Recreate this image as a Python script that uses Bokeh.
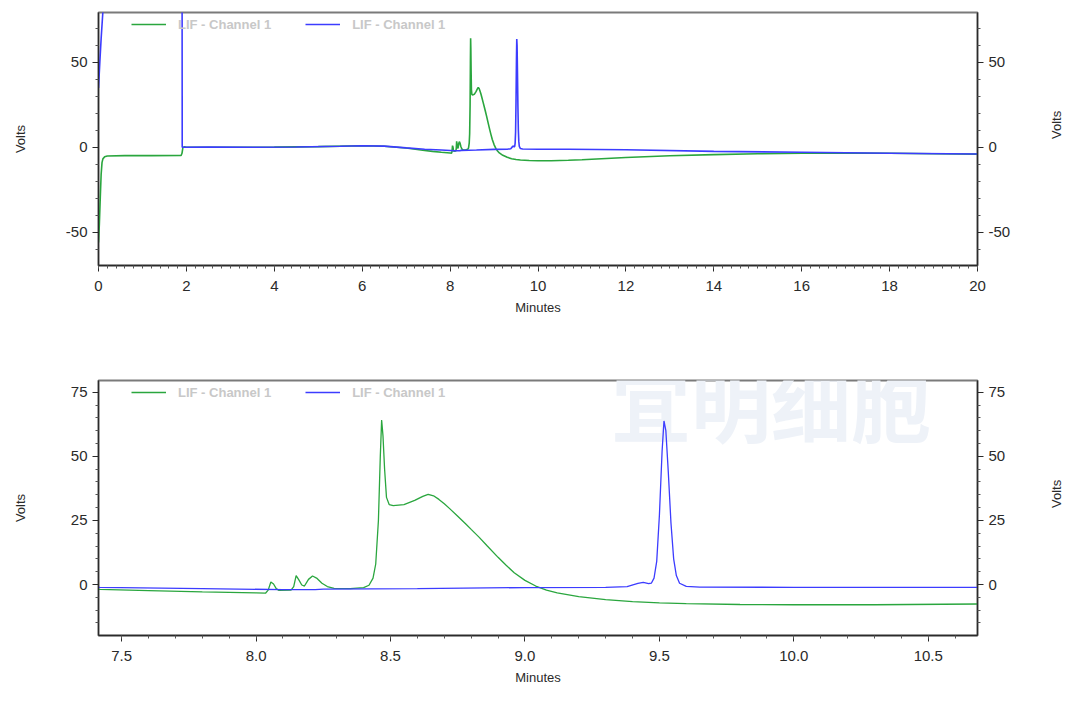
import math
from bokeh.plotting import figure
from bokeh.models import Range1d, LinearAxis, FixedTicker, Legend, LegendItem, Label
from bokeh.layouts import column
from bokeh.embed import file_html
from bokeh.resources import INLINE

series_name = "LIF - Channel 1"
x_title = "Minutes"
y_title = "Volts"
watermark_cn = "宜明细胞"

# ---- green trace (minutes, volts) ----
green_minutes = [0.00, 0.02, 0.04, 0.06, 0.08, 0.10, 0.14, 0.20, 0.60, 1.20, 1.88, 1.90, 1.92, 1.95,
                 2.00, 3.00, 4.00, 5.00, 6.00, 6.50, 7.00, 7.42, 7.60, 7.80, 8.00, 8.035, 8.045,
                 8.055, 8.065, 8.075, 8.085, 8.13, 8.14, 8.149, 8.158, 8.17, 8.18, 8.195, 8.21,
                 8.225, 8.245, 8.265, 8.29, 8.35, 8.40, 8.42, 8.435, 8.445, 8.455, 8.462, 8.467,
                 8.472, 8.478, 8.485, 8.495, 8.51, 8.55, 8.59, 8.62, 8.64, 8.66, 8.68, 8.70, 8.72,
                 8.75, 8.78, 8.80, 8.83, 8.86, 8.90, 8.93, 8.96, 9.00, 9.04, 9.08, 9.12, 9.20,
                 9.30, 9.40, 9.50, 9.60, 9.80, 10.00, 10.30, 10.69, 11.00, 12.00, 13.00, 14.00,
                 15.00, 16.00, 17.00, 18.00, 19.00, 20.00]
green_volts = [-56.0, -45.0, -30.0, -16.0, -9.0, -6.8, -5.6, -5.1, -4.9, -4.9, -4.8, -3.5, -0.2, 0.3,
               0.0, 0.0, 0.1, 0.4, 0.9, 0.6, -0.4, -1.9, -2.4, -2.9, -3.3, -3.4, -2.2,
               1.0, 0.2, -1.6, -2.3, -2.2, -0.8, 3.5, 2.0, -0.2, -0.6, 2.0, 3.3,
               2.5, 0.5, -0.8, -1.5, -1.6, -1.2, -0.3, 2.5, 8.0, 25.0, 50.0, 64.2,
               58.0, 45.0, 34.0, 31.2, 30.8, 31.2, 32.8, 34.4, 35.2, 34.6, 33.2, 31.5, 29.6,
               26.6, 23.6, 21.5, 18.4, 15.0, 10.6, 7.5, 4.6, 1.6, -0.6, -2.2, -3.3, -4.7,
               -5.9, -6.7, -7.2, -7.5, -7.8, -7.9, -7.9, -7.6, -7.3, -6.0, -5.0, -4.3,
               -3.8, -3.5, -3.4, -3.5, -3.8, -4.0]

# ---- blue trace (minutes, volts) ----
blue_minutes = [0.00, 0.03, 0.06, 0.09, 0.12, 0.20, 1.90, 1.905, 2.50, 3.50, 4.50, 5.50, 6.00, 6.50,
                7.00, 7.42, 7.80, 8.10, 8.22, 8.25, 8.60, 9.00, 9.30, 9.38, 9.42, 9.44, 9.46,
                9.47, 9.48, 9.49, 9.50, 9.51, 9.517, 9.524, 9.533, 9.543, 9.553, 9.563, 9.575,
                9.60, 9.65, 10.00, 10.69, 12.00, 14.00, 16.00, 18.00, 20.00]
blue_volts = [35.0, 50.0, 64.0, 76.0, 88.0, 150.0, 150.0, 0.0, 0.1, 0.0, 0.2, 0.6, 0.9, 0.7,
              -0.3, -1.1, -1.6, -2.0, -2.0, -1.8, -1.6, -1.2, -1.1, -0.8, 0.4, 0.8, 0.3,
              0.5, 2.5, 9.0, 27.0, 52.0, 63.8, 60.0, 44.0, 24.0, 10.0, 3.5, 0.5,
              -0.7, -1.0, -1.1, -1.1, -1.4, -2.4, -2.9, -3.5, -3.9]

# ---- axes: ticks and labels ----
full_x_range = (0.0, 20.0)
full_y_range = (-69.6, 79.4)
full_x_ticks = [0, 2, 4, 6, 8, 10, 12, 14, 16, 18, 20]
full_x_labels = ["0", "2", "4", "6", "8", "10", "12", "14", "16", "18", "20"]
full_x_minor = [round(i * 0.2, 2) for i in range(0, 101)]
full_y_ticks = [-50, 0, 50]
full_y_labels = ["-50", "0", "50"]
full_y_minor = [-70, -60, -40, -30, -20, -10, 10, 20, 30, 40, 60, 70]

zoom_x_range = (7.414, 10.683)
zoom_y_range = (-19.9, 79.6)
zoom_x_ticks = [7.5, 8.0, 8.5, 9.0, 9.5, 10.0, 10.5]
zoom_x_labels = ["7.5", "8.0", "8.5", "9.0", "9.5", "10.0", "10.5"]
zoom_x_minor = [round(7.5 + i * 0.1, 2) for i in range(0, 32)]
zoom_y_ticks = [0, 25, 50, 75]
zoom_y_labels = ["0", "25", "50", "75"]
zoom_y_minor = [-15, -10, -5, 5, 10, 15, 20, 30, 35, 40, 45, 55, 60, 65, 70]

GREEN = "#2aa63e"
BLUE = "#3c3cff"
INK = "#2a2a2a"
FONT = "Liberation Sans"


def style_axis(ax, ticks, labels, minor, label_standoff, tick_standoff=5):
    ax.ticker = FixedTicker(ticks=ticks, minor_ticks=minor)
    ax.major_label_overrides = {t: l for t, l in zip(ticks, labels)}
    ax.axis_line_color = INK
    ax.axis_line_width = 1.3
    ax.major_tick_line_color = INK
    ax.major_tick_out = 6
    ax.major_tick_in = 0
    ax.minor_tick_line_color = "#555555"
    ax.minor_tick_out = 3
    ax.minor_tick_in = 0
    ax.major_label_text_font = FONT
    ax.major_label_text_font_size = "15px"
    ax.major_label_text_color = INK
    ax.major_label_standoff = tick_standoff
    ax.axis_label_text_font = FONT
    ax.axis_label_text_font_size = "13px"
    ax.axis_label_text_font_style = "normal"
    ax.axis_label_text_color = INK
    ax.axis_label_standoff = label_standoff


def make_chart(xr, yr, frame_h, top, bottom, xt, xl, xm, yt, yl, ym,
               left_standoff, right_standoff, lw):
    p = figure(frame_width=879, frame_height=frame_h,
               min_border_left=98, min_border_right=95,
               min_border_top=top, min_border_bottom=bottom,
               x_range=Range1d(*xr), y_range=Range1d(*yr),
               output_backend="svg", toolbar_location=None, tools="")
    p.xgrid.visible = False
    p.ygrid.visible = False
    p.outline_line_color = "#7a7a7a"
    p.outline_line_width = 2
    p.background_fill_color = "white"
    p.border_fill_color = "white"

    g = p.line(green_minutes, green_volts, line_color=GREEN, line_width=lw)
    b = p.line(blue_minutes, blue_volts, line_color=BLUE, line_width=lw)

    style_axis(p.xaxis[0], xt, xl, xm, 6, tick_standoff=9)
    p.xaxis[0].axis_label = x_title
    style_axis(p.yaxis[0], yt, yl, ym, left_standoff)
    p.yaxis[0].axis_label = y_title

    right = LinearAxis()
    style_axis(right, yt, yl, ym, right_standoff)
    right.axis_label = y_title
    if "axis_label_orientation" in right.properties():
        right.axis_label_orientation = math.pi / 2
    p.add_layout(right, "right")

    legend = Legend(items=[LegendItem(label=series_name, renderers=[g]),
                           LegendItem(label=series_name, renderers=[b])],
                    orientation="horizontal", location=(33, frame_h - 22),
                    label_text_font=FONT, label_text_font_style="bold",
                    label_text_font_size="13px", label_text_color="#c8c8c8",
                    glyph_width=35, glyph_height=20, label_height=20,
                    label_standoff=12, spacing=34, padding=0, margin=0,
                    background_fill_alpha=0, border_line_alpha=0)
    p.add_layout(legend)
    return p


p1 = make_chart(full_x_range, full_y_range, 253, 12, 65,
                full_x_ticks, full_x_labels, full_x_minor,
                full_y_ticks, full_y_labels, full_y_minor, 35, 43, 1.6)
p2 = make_chart(zoom_x_range, zoom_y_range, 255, 50, 60,
                zoom_x_ticks, zoom_x_labels, zoom_x_minor,
                zoom_y_ticks, zoom_y_labels, zoom_y_minor, 40, 48, 1.3)

# faint watermark behind the lower chart
p2.add_layout(Label(x=9.32, y=71.5, text=watermark_cn, text_font="Noto Sans CJK SC",
                    text_font_style="bold", text_font_size="80px", text_color="#eef2f8",
                    text_baseline="middle", level="underlay"))

layout = column(p1, p2)
open("out.html", "w").write(file_html(layout, INLINE))
